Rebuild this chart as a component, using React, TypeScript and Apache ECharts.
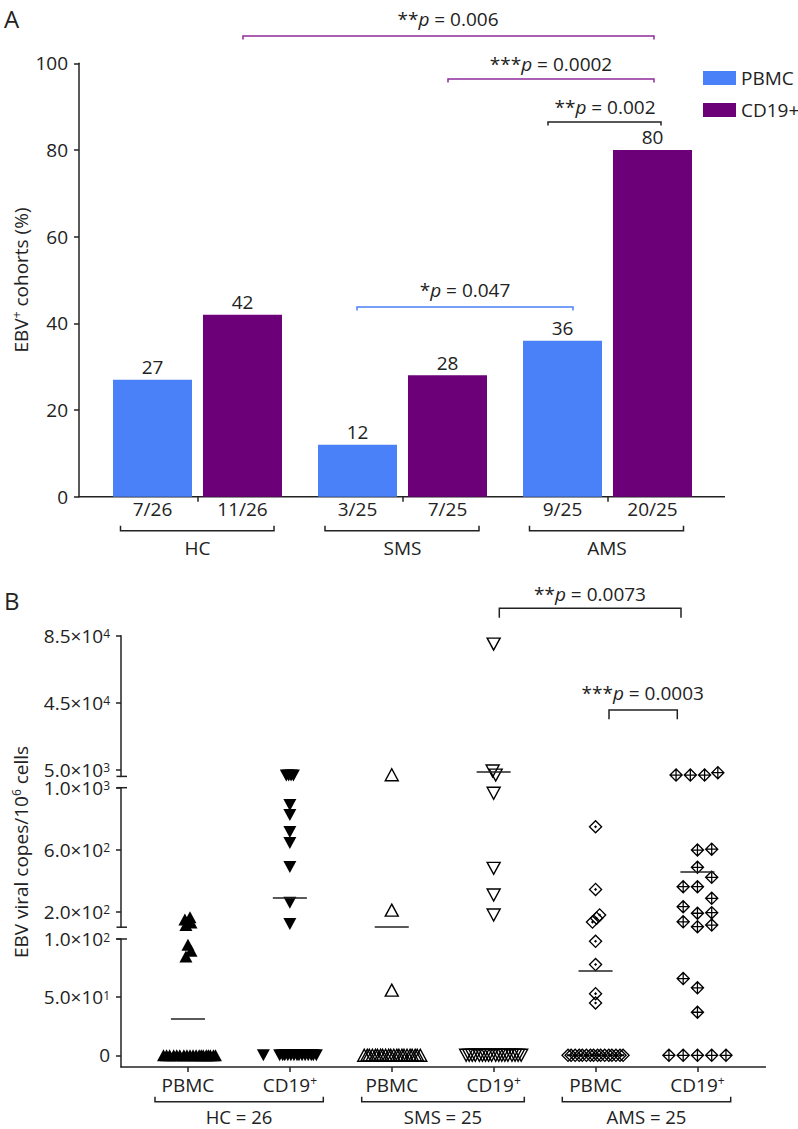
import React, { useEffect, useRef } from 'react';
import * as echarts from 'echarts';

// ---------- Panel A data ----------
const groupsA = ['HC', 'SMS', 'AMS'];
const pbmcPct = [27, 12, 36];
const cd19Pct = [42, 28, 80];
const pbmcFrac = ['7/26', '3/25', '9/25'];
const cd19Frac = ['11/26', '7/25', '20/25'];

// ---------- Panel B data ----------
const catsB = ['PBMC', 'CD19+', 'PBMC', 'CD19+', 'PBMC', 'CD19+'];
const groupLabelsB = ['HC = 26', 'SMS = 25', 'AMS = 25'];

const hcPbmcValues = [165, 150, 130, 115, 95, 90, 85, 0, 0, 0, 0, 0, 0, 0, 0, 0, 0, 0, 0, 0, 0, 0, 0, 0, 0, 0];
const hcPbmcJitter = [0.02, -0.03, 0.03, -0.02, 0, 0.03, -0.02, -0.24, -0.21, -0.18, -0.14, -0.11, -0.08, -0.04, -0.01, 0.02, 0.05, 0.08, 0.11, 0.13, 0.15, 0.18, 0.2, 0.22, 0.25, 0.27];

const hcCd19Values = [1500, 1500, 1500, 1500, 888, 824, 714, 643, 488, 257, 121, 0, 0, 0, 0, 0, 0, 0, 0, 0, 0, 0, 0, 0, 0, 0];
const hcCd19Jitter = [-0.035, -0.012, 0.012, 0.035, 0, 0, 0, 0, 0, 0, 0, -0.26, -0.1, -0.07, -0.05, -0.02, 0.01, 0.04, 0.07, 0.09, 0.12, 0.15, 0.18, 0.21, 0.23, 0.26];

const smsPbmcValues = [2000, 210, 56, 0, 0, 0, 0, 0, 0, 0, 0, 0, 0, 0, 0, 0, 0, 0, 0, 0, 0, 0, 0, 0, 0];
const smsPbmcJitter = [0, 0, 0, -0.27, -0.24, -0.22, -0.19, -0.16, -0.14, -0.11, -0.09, -0.06, -0.03, -0.01, 0.02, 0.05, 0.07, 0.1, 0.12, 0.15, 0.18, 0.2, 0.23, 0.25, 0.28];

const smsCd19Values = [80000, 4200, 1800, 964, 480, 308, 179, 0, 0, 0, 0, 0, 0, 0, 0, 0, 0, 0, 0, 0, 0, 0, 0, 0, 0];
const smsCd19Jitter = [0, -0.01, 0.02, 0, 0, 0, 0, -0.27, -0.24, -0.21, -0.18, -0.14, -0.11, -0.08, -0.05, -0.02, 0.02, 0.05, 0.08, 0.11, 0.14, 0.18, 0.21, 0.24, 0.27];

const amsPbmcValues = [748, 344, 179, 158, 133, 98, 78, 53, 45, 0, 0, 0, 0, 0, 0, 0, 0, 0, 0, 0, 0, 0, 0, 0, 0];
const amsPbmcJitter = [0, 0, 0.04, 0.01, -0.03, 0, 0, 0, 0, -0.27, -0.24, -0.2, -0.16, -0.13, -0.09, -0.05, -0.02, 0.02, 0.05, 0.09, 0.13, 0.16, 0.2, 0.24, 0.27];

const amsCd19Values = [3200, 1800, 1800, 1800, 603, 598, 486, 422, 361, 361, 286, 232, 194, 190, 135, 114, 103, 66, 58, 37, 0, 0, 0, 0, 0];
const amsCd19Jitter = [0.2, -0.21, -0.07, 0.07, 0.14, 0, 0, 0.14, -0.14, 0, 0.14, -0.14, 0.14, 0, -0.14, 0.14, 0, -0.14, 0, 0, -0.28, -0.14, 0, 0.14, 0.28];

const columnValues = [hcPbmcValues, hcCd19Values, smsPbmcValues, smsCd19Values, amsPbmcValues, amsCd19Values];
const columnJitter = [hcPbmcJitter, hcCd19Jitter, smsPbmcJitter, smsCd19Jitter, amsPbmcJitter, amsCd19Jitter];
const columnMeans = [31, 288, 103, 3800, 72.5, 456];

// broken y axis segments (top, middle, bottom)
const segMin = [1000, 100, -10];
const segMax = [85000, 1000, 100];
const segTickValues = [[5000, 45000, 85000], [200, 600, 1000], [0, 50, 100]];
const segTickLabels = [
  ['5.0×10{s|3}', '4.5×10{s|4}', '8.5×10{s|4}'],
  ['2.0×10{s|2}', '6.0×10{s|2}', '1.0×10{s|3}'],
  ['0', '5.0×10{s|1}', '1.0×10{s|2}'],
];

// ---------- styles ----------
const FONT = "'Open Sans', 'Noto Sans', sans-serif";
const INK = '#222';
const BLUE = '#4a80f8';
const PURPLE = '#6b0078';
const SIG_PURPLE = '#8e2b9b';

const DOT_DIAMOND = 'path://M0,-10L10,0L0,10L-10,0Z M0,-7.3L-7.3,0L0,7.3L7.3,0Z M0,-2.2L2.2,0L0,2.2L-2.2,0Z';
const CROSS_DIAMOND = 'path://M0,-10L10,0L0,10L-10,0Z M0,-7.3L-7.3,0L0,7.3L7.3,0Z M-0.9,-7.3L0.9,-7.3L0.9,7.3L-0.9,7.3Z M-7.3,-0.9L7.3,-0.9L7.3,0.9L-7.3,0.9Z';

const columnSymbols = [
  { symbol: 'triangle', rotate: 0, size: [13, 12], color: '#000', border: 0 },
  { symbol: 'triangle', rotate: 180, size: [13, 12], color: '#000', border: 0 },
  { symbol: 'triangle', rotate: 0, size: [13, 12], color: 'rgba(0,0,0,0)', border: 1.4 },
  { symbol: 'triangle', rotate: 180, size: [13, 12], color: 'rgba(0,0,0,0)', border: 1.4 },
  { symbol: DOT_DIAMOND, rotate: 0, size: [14, 14], color: '#000', border: 0 },
  { symbol: CROSS_DIAMOND, rotate: 0, size: [14, 14], color: '#000', border: 0 },
];

const supRich = {
  s: { fontSize: 12, lineHeight: 12, verticalAlign: 'top', fontFamily: FONT, color: INK, fill: INK },
  i: { fontStyle: 'italic', fontSize: 19, fontFamily: FONT, color: INK, fill: INK },
};
const supRichTight = {
  s: { fontSize: 12, lineHeight: 8, verticalAlign: 'top', fontFamily: FONT, color: INK, fill: INK },
};

function segOf(v: number) {
  if (v > 1000) return 0;
  if (v > 100) return 1;
  return 2;
}

function text(x: number, y: number, t: string, extra: any = {}, rotation = 0) {
  return {
    type: 'text',
    x,
    y,
    rotation,
    silent: true,
    style: {
      text: t,
      fill: INK,
      fontSize: 19,
      fontFamily: FONT,
      lineHeight: 22,
      align: 'center',
      verticalAlign: 'middle',
      textAlign: 'center',
      textVerticalAlign: 'middle',
      rich: supRich,
      ...extra,
    },
  };
}

function bracket(x1: number, x2: number, y: number, dy: number, color: string) {
  return {
    type: 'polyline',
    silent: true,
    shape: { points: [[x1, y + dy], [x1, y], [x2, y], [x2, y + dy]] },
    style: { stroke: color, lineWidth: 1.5, fill: null },
  };
}

function hline(x1: number, x2: number, y: number, w = 1.5) {
  return {
    type: 'line',
    silent: true,
    shape: { x1, y1: y, x2, y2: y },
    style: { stroke: INK, lineWidth: w },
  };
}

function buildOption() {
  const axisLineStyle = { color: INK, width: 1.5 };

  const grids: any[] = [
    { left: 95, top: 63.3, width: 615, height: 433.4, outerBoundsMode: 'none' },
    { left: 137, top: 635.7, width: 611.4, height: 140.7, outerBoundsMode: 'none' },
    { left: 137, top: 787.7, width: 611.4, height: 139.5, outerBoundsMode: 'none' },
    { left: 137, top: 939, width: 611.4, height: 127.9, outerBoundsMode: 'none' },
  ];

  const xAxes: any[] = [
    {
      gridIndex: 0,
      type: 'category',
      data: groupsA,
      axisLine: { show: false, onZero: false },
      axisTick: { show: true, alignWithLabel: true, length: 5, lineStyle: axisLineStyle },
      axisLabel: { show: false },
      splitLine: { show: false },
    },
  ];
  for (let s = 0; s < 3; s++) {
    xAxes.push({
      gridIndex: s + 1,
      type: 'value',
      min: -0.5,
      max: 5.5,
      show: false,
      position: 'top',
      axisLine: { onZero: false },
      splitLine: { show: false },
    });
  }
  xAxes.push({
    gridIndex: 3,
    type: 'category',
    data: catsB,
    position: 'bottom',
    axisLine: { show: false, onZero: false },
    axisTick: { show: true, alignWithLabel: true, interval: 0, length: 5, lineStyle: axisLineStyle },
    axisLabel: {
      interval: 0,
      margin: 8,
      fontSize: 19,
      fontFamily: FONT,
      color: INK,
      lineHeight: 20,
      rich: supRichTight,
      formatter: (v: string) => (v === 'CD19+' ? 'CD19{s|+}' : v),
    },
    splitLine: { show: false },
  });

  const yAxes: any[] = [
    {
      gridIndex: 0,
      type: 'value',
      min: 0,
      max: 100,
      interval: 20,
      offset: 16,
      axisLine: { show: true, onZero: false, lineStyle: axisLineStyle },
      axisTick: { show: true, length: 5, lineStyle: axisLineStyle },
      axisLabel: { fontSize: 19, fontFamily: FONT, color: INK, margin: 11 },
      splitLine: { show: false },
    },
  ];
  for (let s = 0; s < 3; s++) {
    const vals = segTickValues[s];
    const labs = segTickLabels[s];
    yAxes.push({
      gridIndex: s + 1,
      type: 'value',
      min: segMin[s],
      max: segMax[s],
      offset: 16,
      axisLine: { show: true, onZero: false, lineStyle: axisLineStyle },
      axisTick: { show: true, length: 5, lineStyle: axisLineStyle, customValues: vals },
      axisLabel: {
        customValues: vals,
        fontSize: 19,
        fontFamily: FONT,
        color: INK,
        margin: 11,
        lineHeight: 16,
        rich: supRichTight,
        showMinLabel: true,
        showMaxLabel: true,
        formatter: (v: number) => {
          const idx = vals.indexOf(v);
          return idx >= 0 ? labs[idx] : '';
        },
      },
      splitLine: { show: false },
    });
  }

  const series: any[] = [];
  const barCommon = { type: 'bar', xAxisIndex: 0, yAxisIndex: 0, barWidth: 79, barGap: '13.9%', silent: true };
  const fracLabel = (arr: string[]) => ({
    show: true,
    position: 'bottom',
    distance: 3,
    fontSize: 19,
    fontFamily: FONT,
    color: INK,
    formatter: (p: any) => arr[p.dataIndex],
  });
  const valLabel = { show: true, position: 'top', distance: 3, fontSize: 19, fontFamily: FONT, color: INK };

  series.push({ ...barCommon, name: 'PBMC_n', stack: 'p', data: pbmcPct.map(() => 0), itemStyle: { color: 'rgba(0,0,0,0)' }, label: fracLabel(pbmcFrac) });
  series.push({ ...barCommon, name: 'PBMC', stack: 'p', data: pbmcPct, itemStyle: { color: BLUE }, label: valLabel });
  series.push({ ...barCommon, name: 'CD19_n', stack: 'c', data: cd19Pct.map(() => 0), itemStyle: { color: 'rgba(0,0,0,0)' }, label: fracLabel(cd19Frac) });
  series.push({ ...barCommon, name: 'CD19+', stack: 'c', data: cd19Pct, itemStyle: { color: PURPLE }, label: valLabel });

  for (let c = 0; c < 6; c++) {
    const vals = columnValues[c];
    const jit = columnJitter[c];
    const sym = columnSymbols[c];
    for (let s = 0; s < 3; s++) {
      const data: number[][] = [];
      vals.forEach((v, i) => {
        if (segOf(v) === s) data.push([c + jit[i], v]);
      });
      const m = columnMeans[c];
      const ser: any = {
        type: 'scatter',
        name: 'col' + c + '_' + s,
        xAxisIndex: s + 1,
        yAxisIndex: s + 1,
        data,
        symbol: sym.symbol,
        symbolRotate: sym.rotate,
        symbolSize: sym.size,
        silent: true,
        clip: false,
        itemStyle: {
          color: sym.color,
          borderColor: '#000',
          borderWidth: sym.border,
          opacity: 1,
        },
        z: 3,
      };
      if (segOf(m) === s) {
        ser.markLine = {
          silent: true,
          symbol: ['none', 'none'],
          label: { show: false },
          lineStyle: { color: INK, width: 1.5, type: 'solid' },
          data: [[{ coord: [c - 0.167, m] }, { coord: [c + 0.167, m] }]],
          z: 5,
        };
      }
      series.push(ser);
    }
  }

  const graphics: any[] = [
    // panel letters
    text(4, 18, 'A', { fontSize: 24, align: 'left', textAlign: 'left', lineHeight: 24 }),
    text(4, 600, 'B', { fontSize: 24, align: 'left', textAlign: 'left', lineHeight: 24 }),
    // y axis names
    text(21, 280, 'EBV{s|+} cohorts (%)', {}, Math.PI / 2),
    text(21, 852, 'EBV viral copes/10{s|6} cells', {}, Math.PI / 2),
    // panel A x-axis line
    hline(78.5, 725, 496.7),
    // panel A group brackets
    bracket(120.5, 274, 530.7, -5, INK),
    bracket(325, 479, 530.7, -5, INK),
    bracket(529.5, 683.5, 530.7, -5, INK),
    text(197.5, 548, 'HC'),
    text(402.5, 548, 'SMS'),
    text(607, 548, 'AMS'),
    // panel A significance
    bracket(243, 654, 36, 3.5, SIG_PURPLE),
    text(448, 19, '**{i|p} = 0.006'),
    bracket(448, 654, 79, 3.5, SIG_PURPLE),
    text(551, 64, '***{i|p} = 0.0002'),
    bracket(548, 661, 122, 3.5, INK),
    text(605, 107, '**{i|p} = 0.002'),
    bracket(357, 573, 307, 3.5, BLUE),
    text(465, 290, '*{i|p} = 0.047'),
    // panel B x-axis line
    hline(120.5, 766, 1067),
    // panel B axis break caps
    hline(116.5, 127, 776.4),
    hline(116.5, 127, 787.7),
    hline(116.5, 127, 927.2),
    hline(116.5, 127, 939),
    // panel B group brackets
    bracket(155, 323.3, 1101.7, -5, INK),
    bracket(361.7, 524.3, 1101.7, -5, INK),
    bracket(562.3, 730.7, 1101.7, -5, INK),
    text(239, 1116, groupLabelsB[0], { lineHeight: 18, fontSize: 18.5 }),
    text(443, 1116, groupLabelsB[1], { lineHeight: 18, fontSize: 18.5 }),
    text(646.5, 1116, groupLabelsB[2], { lineHeight: 18, fontSize: 18.5 }),
    // panel B significance
    bracket(499.3, 681, 608.3, 9.4, INK),
    text(590, 594, '**{i|p} = 0.0073'),
    bracket(609, 677.3, 710, 9.3, INK),
    text(642.7, 693, '***{i|p} = 0.0003'),
  ];

  return {
    animation: false,
    backgroundColor: '#fff',
    textStyle: { fontFamily: FONT },
    grid: grids,
    xAxis: xAxes,
    yAxis: yAxes,
    legend: {
      data: ['PBMC', 'CD19+'],
      orient: 'vertical',
      left: 698,
      top: 63.5,
      itemWidth: 33,
      itemHeight: 14,
      itemGap: 13,
      icon: 'rect',
      selectedMode: false,
      textStyle: { fontSize: 19, fontFamily: FONT, color: INK, lineHeight: 19 },
    },
    series,
    graphic: graphics,
  };
}

export default function App() {
  const ref = useRef<HTMLDivElement>(null);
  useEffect(() => {
    if (!ref.current) return;
    const chart = echarts.init(ref.current, null, { renderer: 'svg' });
    chart.setOption(buildOption() as any);
    return () => chart.dispose();
  }, []);
  return (
    <div
      ref={ref}
      style={{ position: 'absolute', left: 0, top: 0, width: 798, height: 1129, background: '#fff' }}
    />
  );
}
